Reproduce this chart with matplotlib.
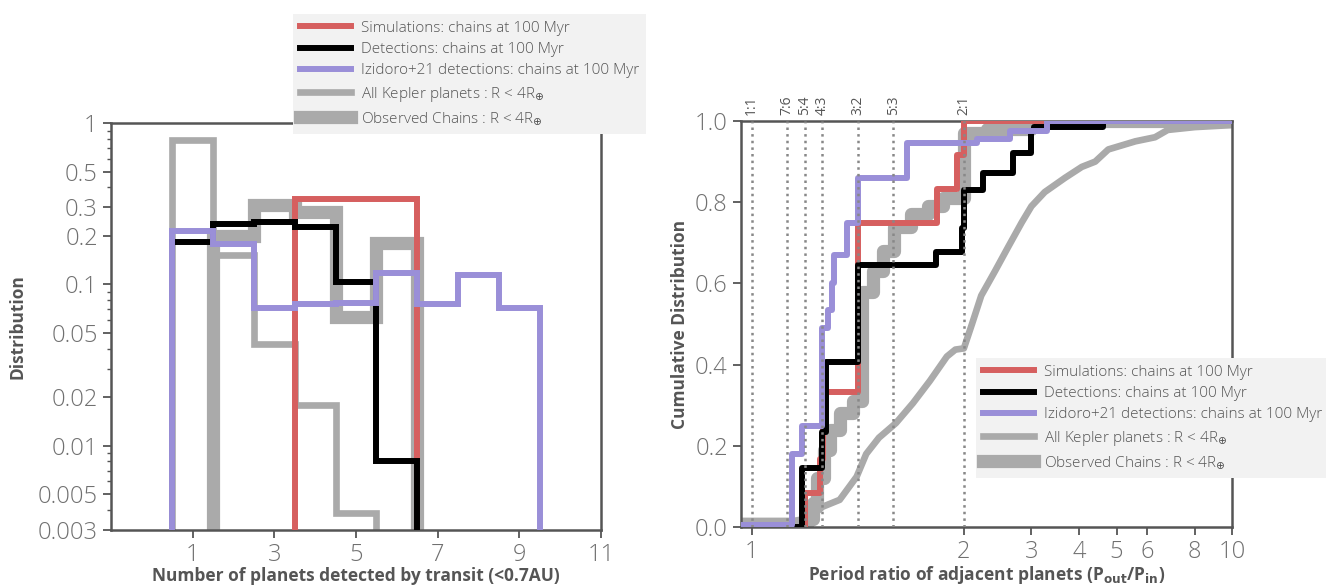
import numpy as np
import matplotlib
matplotlib.use('Agg')
import matplotlib.pyplot as plt
from matplotlib.lines import Line2D
import matplotlib.transforms as mtransforms

plt.rcParams['font.family'] = ['Open Sans', 'DejaVu Sans']

# colours
c_sim = '#d65f5f'
c_det = '#000000'
c_izi = '#9a8fd8'
c_kep = '#aaaaaa'

# ---- left panel: multiplicity distributions (bins centred on integers)
n_sim = [1, 2, 3, 4, 5, 6]
v_sim = [0, 0, 0, 0.34, 0.34, 0.34]
n_det = [1, 2, 3, 4, 5, 6]
v_det = [0.183, 0.237, 0.245, 0.228, 0.104, 0.008]
n_izi = [1, 2, 3, 4, 5, 6, 7, 8, 9]
v_izi = [0.214, 0.178, 0.071, 0.076, 0.077, 0.117, 0.076, 0.115, 0.071]
n_kep = [1, 2, 3, 4, 5]
v_kep = [0.79, 0.152, 0.043, 0.018, 0.0038]
n_obs = [1, 2, 3, 4, 5, 6]
v_obs = [0, 0.2, 0.31, 0.28, 0.063, 0.18]

# ---- right panel: cumulative period ratio distributions (step points)
x_sim = [0.95, 1.25, 1.32, 1.335, 1.345, 1.5, 1.873, 1.97, 2.0, 10]
y_sim = [0.0, 0.083, 0.167, 0.25, 0.333, 0.75, 0.833, 0.917, 1.0, 1.0]
x_det = [0.95, 1.236, 1.333, 1.35, 1.5, 1.87, 1.99, 2.0, 2.24, 2.68, 3.0, 3.05, 4.6, 10]
y_det = [0.0, 0.146, 0.235, 0.406, 0.645, 0.677, 0.736, 0.83, 0.871, 0.92, 0.975, 0.985, 1.0, 1.0]
x_izi = [0.95, 1.19, 1.236, 1.33, 1.36, 1.38, 1.39, 1.45, 1.5, 1.73, 2.16, 2.64, 3.3, 10]
y_izi = [0.005, 0.18, 0.25, 0.49, 0.535, 0.6, 0.67, 0.75, 0.86, 0.945, 0.955, 0.975, 1.0, 1.0]
x_obs = [0.95, 1.26, 1.29, 1.31, 1.34, 1.37, 1.415, 1.48, 1.52, 1.57, 1.62, 1.67, 1.75, 1.83,
         1.9, 2.0, 2.3, 3.0, 10]
y_obs = [0.0, 0.02, 0.06, 0.12, 0.19, 0.24, 0.28, 0.31, 0.58, 0.63, 0.68, 0.74, 0.77, 0.79,
         0.81, 0.97, 0.98, 1.0, 1.0]
x_kep = [0.95, 1.2, 1.25, 1.29, 1.335, 1.415, 1.495, 1.54, 1.60, 1.68, 1.76, 1.84, 1.92, 1.96,
         2.0, 2.10, 2.22, 2.41, 2.61, 2.83, 3.0, 3.25, 3.67, 4.06, 4.4, 4.76, 5.6, 6.3, 6.8,
         8.0, 10]
y_kep = [0.015, 0.015, 0.02, 0.03, 0.05, 0.067, 0.124, 0.18, 0.22, 0.256, 0.305, 0.36, 0.42,
         0.437, 0.44, 0.50, 0.57, 0.63, 0.69, 0.75, 0.79, 0.825, 0.86, 0.887, 0.90, 0.93, 0.95,
         0.96, 0.978, 0.985, 0.99]

res_val = [1.0, 7 / 6, 5 / 4, 4 / 3, 3 / 2, 5 / 3, 2.0]
res_lab = ['1:1', '7:6', '5:4', '4:3', '3:2', '5:3', '2:1']

labels = ['Simulations: chains at 100 Myr',
          'Detections: chains at 100 Myr',
          'Izidoro+21 detections: chains at 100 Myr',
          r'All Kepler planets : R < 4R$_{\oplus}$',
          r'Observed Chains : R < 4R$_{\oplus}$']

lw_thin = 4.3
lw_kep = 4.8
lw_obs = 9.5

fig = plt.figure(figsize=(13.26, 5.88), dpi=100)
ax1 = fig.add_axes([0.0837, 0.0986, 0.3695, 0.692])
ax2 = fig.add_axes([0.5588, 0.1037, 0.3703, 0.6905])

tick_col = '#707070'
spine_col = '#555555'
lab_col = '#555555'

def hist_step(ax, n, v, **kw):
    edges = np.append(np.array(n) - 0.5, n[-1] + 0.5)
    vals = np.where(np.array(v) > 0, v, 1e-6)
    ax.stairs(vals, edges, baseline=1e-6, fill=False, **kw)

hist_step(ax1, n_obs, v_obs, color=c_kep, lw=lw_obs, zorder=1)
hist_step(ax1, n_kep, v_kep, color=c_kep, lw=lw_kep, zorder=2)
hist_step(ax1, n_sim, v_sim, color=c_sim, lw=lw_thin, zorder=3)
hist_step(ax1, n_det, v_det, color=c_det, lw=lw_thin, zorder=4)
hist_step(ax1, n_izi, v_izi, color=c_izi, lw=lw_thin, zorder=5)

ax1.set_yscale('log')
ax1.set_ylim(0.003, 1)
ax1.set_xlim(-1, 11)
ax1.set_xticks([1, 3, 5, 7, 9, 11])
yt = [1, 0.5, 0.3, 0.2, 0.1, 0.05, 0.02, 0.01, 0.005, 0.003]
ax1.set_yticks(yt)
ax1.set_yticklabels(['1', '0.5', '0.3', '0.2', '0.1', '0.05', '0.02', '0.01', '0.005', '0.003'])
ax1.set_xlabel('Number of planets detected by transit (<0.7AU)', fontsize=12.5,
               fontweight='bold', color=lab_col, labelpad=0)
ax1.set_ylabel('Distribution', fontsize=12.5, fontweight='bold', color=lab_col, labelpad=8)

# right panel: linear between 1 and 2, log above 2
K = 1.807

def fwd(x):
    x = np.asarray(x, dtype=float)
    return np.where(x <= 2, x - 1, 1 + K * np.log10(np.maximum(x, 1e-9) / 2))

def inv(y):
    y = np.asarray(y, dtype=float)
    return np.where(y <= 1, y + 1, 2 * 10 ** ((y - 1) / K))

ax2.set_xscale('function', functions=(fwd, inv))
ax2.plot(x_obs, y_obs, drawstyle='steps-post', color=c_kep, lw=lw_obs, zorder=1)
ax2.plot(x_kep, y_kep, color=c_kep, lw=lw_kep, zorder=2)
ax2.plot(x_sim, y_sim, drawstyle='steps-post', color=c_sim, lw=lw_thin, zorder=3)
ax2.plot(x_det, y_det, drawstyle='steps-post', color=c_det, lw=lw_thin, zorder=4)
ax2.plot(x_izi, y_izi, drawstyle='steps-post', color=c_izi, lw=lw_thin, zorder=5)

trans = mtransforms.blended_transform_factory(ax2.transData, ax2.transAxes)
for r, lab in zip(res_val, res_lab):
    ax2.axvline(r, color='#888888', ls=':', lw=1.8, zorder=6)
    ax2.text(r, 1.015, lab, rotation=90, ha='center', va='bottom', transform=trans,
             fontsize=10, color='#555555')

ax2.set_xlim(0.95, 10)
ax2.set_ylim(0, 1)
ax2.set_xticks([1, 2, 3, 4, 5, 6, 8, 10])
ax2.set_xticklabels(['1', '2', '3', '4', '5', '6', '8', '10'])
ax2.xaxis.set_minor_locator(plt.NullLocator())
ax2.set_yticks([0, 0.2, 0.4, 0.6, 0.8, 1.0])
ax2.set_yticklabels(['0.0', '0.2', '0.4', '0.6', '0.8', '1.0'])
ax2.set_xlabel(r'Period ratio of adjacent planets (P$_{\mathbf{out}}$/P$_{\mathbf{in}}$)',
               fontsize=12.5, fontweight='bold', color=lab_col, labelpad=0)
ax2.set_ylabel('Cumulative Distribution', fontsize=12.5, fontweight='bold', color=lab_col,
               labelpad=4)

for ax in (ax1, ax2):
    for s in ax.spines.values():
        s.set_color(spine_col)
        s.set_linewidth(1.8)
    ax.tick_params(which='major', direction='out', length=6, width=1.3, colors=spine_col,
                   labelcolor=tick_col, labelsize=17)
    ax.tick_params(which='minor', direction='out', length=3, width=1.0, colors=spine_col)
    for t in ax.get_xticklabels() + ax.get_yticklabels():
        t.set_fontweight('light')

handles = [Line2D([], [], color=c_sim, lw=lw_thin),
           Line2D([], [], color=c_det, lw=lw_thin),
           Line2D([], [], color=c_izi, lw=lw_thin),
           Line2D([], [], color=c_kep, lw=lw_kep),
           Line2D([], [], color=c_kep, lw=lw_obs)]

for anchor in [(285 / 1326, 1 - 6 / 588), (968 / 1326, 1 - 350 / 588)]:
    leg = fig.legend(handles, labels, loc='upper left', bbox_to_anchor=anchor,
                     fontsize=11, frameon=True, facecolor='#f2f2f2', edgecolor='none',
                     framealpha=1, fancybox=False, handlelength=3.4, handletextpad=0.6,
                     labelspacing=0.42, borderpad=0.45)
    for t in leg.get_texts():
        t.set_color('#555555')
        t.set_fontweight('light')

fig.savefig('out.png', dpi=100)
